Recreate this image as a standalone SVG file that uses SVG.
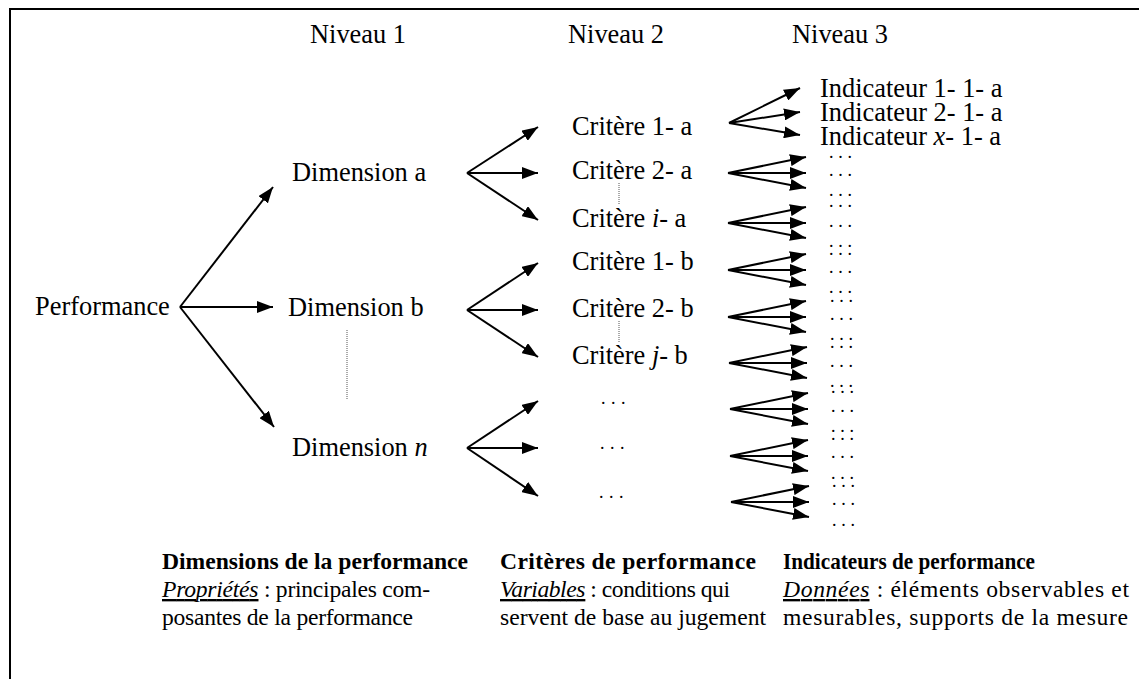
<svg xmlns="http://www.w3.org/2000/svg" width="1139" height="679" viewBox="0 0 1139 679">
<style>
text{font-family:"Liberation Serif","Times New Roman",serif;fill:#000}
.t{font-size:26.4px}
.b{font-size:23.6px}
.bold{font-weight:bold}
.it{font-style:italic}
.u{font-style:italic;text-decoration:underline}
.d{font-size:18px;letter-spacing:4.8px}
.dc{font-size:18px;letter-spacing:5.5px}
.a{stroke:#000;stroke-width:2;fill:none;marker-end:url(#ah)}
.dot{stroke:#555;stroke-width:1;stroke-dasharray:1 1;fill:none}
</style>
<defs>
<marker id="ah" markerUnits="userSpaceOnUse" markerWidth="17" markerHeight="12" refX="16" refY="6" orient="auto"><path d="M0,0 L16,6 L0,12 Z" fill="#000"/></marker>
</defs>
<rect x="10" y="9" width="1200" height="720" fill="none" stroke="#000" stroke-width="2"/>
<g id="levels">
<text class="t" x="310" y="43">Niveau 1</text>
<text class="t" x="568" y="43">Niveau 2</text>
<text class="t" x="792" y="43">Niveau 3</text>
</g>
<g id="performance"><text class="t" x="35" y="315">Performance</text></g>
<g id="dim-a"><text class="t" x="292" y="181">Dimension a</text></g>
<g id="dim-b"><text class="t" x="288" y="316">Dimension b</text></g>
<g id="dim-n"><text class="t" x="292" y="456">Dimension <tspan class="it">n</tspan></text></g>
<g id="crit-1a"><text class="t" x="572" y="135">Critère 1- a</text></g>
<g id="crit-2a"><text class="t" x="572" y="179">Critère 2- a</text></g>
<g id="crit-ia"><text class="t" x="572" y="227">Critère <tspan class="it">i</tspan>- a</text></g>
<g id="crit-1b"><text class="t" x="572" y="270">Critère 1- b</text></g>
<g id="crit-2b"><text class="t" x="572" y="317">Critère 2- b</text></g>
<g id="crit-jb"><text class="t" x="572" y="364">Critère <tspan class="it">j</tspan>- b</text></g>
<g id="crit-etc">
<text class="dc" x="601" y="404">...</text>
<text class="dc" x="600" y="449">...</text>
<text class="dc" x="599" y="498">...</text>
</g>
<g id="ind-1a">
<text class="t" x="820" y="97">Indicateur 1- 1- a</text>
<text class="t" x="820" y="121">Indicateur 2- 1- a</text>
<text class="t" x="820" y="145">Indicateur <tspan class="it">x</tspan>- 1- a</text>
</g>
<g id="ind-etc">
<text class="d" x="829" y="158">...</text>
<text class="d" x="829" y="176">...</text>
<text class="d" x="829" y="196">...</text>
<text class="d" x="829" y="207">...</text>
<text class="d" x="829" y="227">...</text>
<text class="d" x="829" y="247">...</text>
<text class="d" x="829" y="255">...</text>
<text class="d" x="829" y="273">...</text>
<text class="d" x="829" y="293">...</text>
<text class="d" x="830" y="302">...</text>
<text class="d" x="830" y="320">...</text>
<text class="d" x="830" y="340">...</text>
<text class="d" x="830" y="348">...</text>
<text class="d" x="830" y="367">...</text>
<text class="d" x="830" y="387">...</text>
<text class="d" x="831" y="393">...</text>
<text class="d" x="831" y="412">...</text>
<text class="d" x="831" y="432">...</text>
<text class="d" x="831" y="440">...</text>
<text class="d" x="831" y="458">...</text>
<text class="d" x="831" y="479">...</text>
<text class="d" x="832" y="487">...</text>
<text class="d" x="832" y="505">...</text>
<text class="d" x="832" y="526">...</text>
</g>
<g id="legend-1">
<text class="b bold" x="162" y="569">Dimensions de la performance</text>
<text class="b" x="162" y="597" textLength="268" lengthAdjust="spacing"><tspan class="u">Propriétés</tspan> : principales com-</text>
<text class="b" x="162" y="625" textLength="251" lengthAdjust="spacing">posantes de la performance</text>
</g>
<g id="legend-2">
<text class="b bold" x="500" y="569" textLength="256" lengthAdjust="spacing">Critères de performance</text>
<text class="b" x="500" y="597" textLength="230" lengthAdjust="spacing"><tspan class="u">Variables</tspan> : conditions qui</text>
<text class="b" x="500" y="625">servent de base au jugement</text>
</g>
<g id="legend-3">
<text class="b bold" x="783" y="569" textLength="252" lengthAdjust="spacingAndGlyphs">Indicateurs de performance</text>
<text class="b" x="783" y="597" textLength="346" lengthAdjust="spacing"><tspan class="u">Données</tspan> : éléments observables et</text>
<text class="b" x="783" y="625" textLength="345" lengthAdjust="spacing">mesurables, supports de la mesure</text>
</g>
<g id="connectors">
<line class="a" x1="180" y1="307" x2="273" y2="187"/>
<line class="a" x1="180" y1="307" x2="273" y2="307"/>
<line class="a" x1="180" y1="307" x2="274" y2="427"/>
<line class="dot" x1="347" y1="330" x2="347" y2="400"/>
<line class="dot" x1="619" y1="183" x2="619" y2="205"/>
<line class="dot" x1="619" y1="321" x2="619" y2="343"/>
<line class="a" x1="467" y1="173" x2="538" y2="127"/>
<line class="a" x1="467" y1="173" x2="538" y2="173"/>
<line class="a" x1="467" y1="173" x2="538" y2="220"/>
<line class="a" x1="467" y1="310" x2="538" y2="263"/>
<line class="a" x1="467" y1="310" x2="538" y2="310"/>
<line class="a" x1="467" y1="310" x2="538" y2="357"/>
<line class="a" x1="467" y1="448" x2="538" y2="401"/>
<line class="a" x1="467" y1="448" x2="538" y2="448"/>
<line class="a" x1="467" y1="448" x2="538" y2="496"/>
<line class="a" x1="729" y1="123" x2="800" y2="88"/>
<line class="a" x1="729" y1="123" x2="800" y2="112"/>
<line class="a" x1="729" y1="123" x2="800" y2="135"/>
<line class="a" x1="728" y1="173" x2="806" y2="157"/>
<line class="a" x1="728" y1="173" x2="806" y2="173"/>
<line class="a" x1="728" y1="173" x2="806" y2="188"/>
<line class="a" x1="728" y1="223" x2="806" y2="207"/>
<line class="a" x1="728" y1="223" x2="806" y2="223"/>
<line class="a" x1="728" y1="223" x2="806" y2="238"/>
<line class="a" x1="728" y1="270" x2="806" y2="254"/>
<line class="a" x1="728" y1="270" x2="806" y2="270"/>
<line class="a" x1="728" y1="270" x2="806" y2="285"/>
<line class="a" x1="728" y1="317" x2="806" y2="301"/>
<line class="a" x1="728" y1="317" x2="806" y2="317"/>
<line class="a" x1="728" y1="317" x2="806" y2="332"/>
<line class="a" x1="729" y1="363" x2="807" y2="347"/>
<line class="a" x1="729" y1="363" x2="807" y2="363"/>
<line class="a" x1="729" y1="363" x2="807" y2="378"/>
<line class="a" x1="730" y1="409" x2="808" y2="393"/>
<line class="a" x1="730" y1="409" x2="808" y2="409"/>
<line class="a" x1="730" y1="409" x2="808" y2="424"/>
<line class="a" x1="730" y1="456" x2="808" y2="440"/>
<line class="a" x1="730" y1="456" x2="808" y2="456"/>
<line class="a" x1="730" y1="456" x2="808" y2="471"/>
<line class="a" x1="731" y1="502" x2="809" y2="486"/>
<line class="a" x1="731" y1="502" x2="809" y2="502"/>
<line class="a" x1="731" y1="502" x2="809" y2="517"/>
</g>
</svg>
